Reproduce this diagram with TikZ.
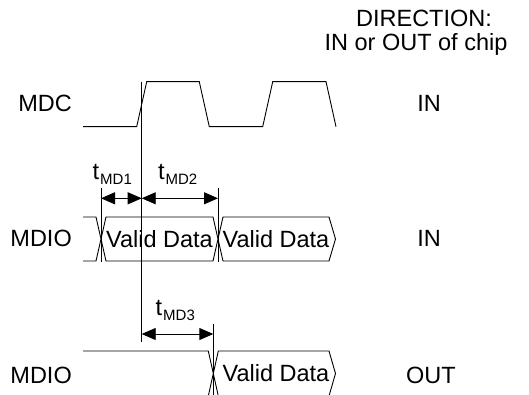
\documentclass[tikz,border=0pt]{standalone}
\usepackage{fontspec}
\setmainfont{Liberation Sans}
\usetikzlibrary{arrows.meta}
\newcommand{\tsub}[1]{t\kern1pt\raisebox{-5.5pt}{\fontsize{15}{15}\selectfont #1}}
\begin{document}
\begin{tikzpicture}[x=1pt,y=-1pt,
  wave/.style={line width=0.9pt, line join=miter},
  tickline/.style={line width=0.9pt},
  dimarrow/.style={line width=0.9pt, {Triangle[length=14pt,width=12pt]}-{Triangle[length=14pt,width=12pt]}},
  lbl/.style={inner sep=0pt, font=\fontsize{23.5}{23.5}\selectfont},
]
\useasboundingbox (0,0) rectangle (529,395);

% labels
\node[lbl, anchor=base east] (mdc) at (72,112) {MDC};
\node[lbl, anchor=base east] (mdioin) at (72,246) {MDIO};
\node[lbl, anchor=base east] (mdioout) at (72,383) {MDIO};
\node[lbl, anchor=base] (dir1) at (424,27) {DIRECTION:};
\node[lbl, anchor=base] (dir2) at (416,51) {IN or OUT of chip};
\node[lbl, anchor=base] (in1) at (429,112) {IN};
\node[lbl, anchor=base] (in2) at (429,246) {IN};
\node[lbl, anchor=base] (out) at (431,383) {OUT};

% MDC clock
\draw[wave] (83,126.7) -- (136.7,126.7) -- (146.7,81.7) -- (199.3,81.7) -- (209.3,126.7)
  -- (262.7,126.7) -- (272.7,81.7) -- (326,81.7) -- (336,126.7);

% MDIO IN bus
\draw[wave] (83,217) -- (96,217) -- (106,261) -- (213,261) -- (223,217) -- (329,217)
  -- (335.5,239) -- (329,261) -- (223,261) -- (213,217) -- (106,217) -- (96,261) -- (83,261);
\node[lbl, anchor=base] (vd1) at (159.5,247.5) {Valid Data};
\node[lbl, anchor=base] (vd2) at (276,247.5) {Valid Data};

% MDIO OUT bus
\draw[wave] (83,351) -- (208.3,351) -- (218.3,396) -- (329,396) -- (335.5,373.5) -- (329,351)
  -- (218.3,351) -- (208.3,396) -- (83,396);
\node[lbl, anchor=base] (vd3) at (276,381) {Valid Data};

% reference lines
\coordinate (m0) at (141.7,81.7);
\coordinate (m1) at (141.7,341.7);
\draw[tickline] (m0) -- (m1);
\coordinate (a0) at (101,188); \coordinate (a1) at (101,262);
\coordinate (b0) at (218,188); \coordinate (b1) at (218,262);
\coordinate (c0) at (213.3,324); \coordinate (c1) at (213.3,396);
\draw[tickline] (a0) -- (a1);
\draw[tickline] (b0) -- (b1);
\draw[tickline] (c0) -- (c1);

% dimension arrows
\coordinate (d1l) at (101,198.3);
\coordinate (d1r) at (141.7,198.3);
\coordinate (d2r) at (218,198.3);
\coordinate (d3l) at (141.7,334);
\coordinate (d3r) at (213.3,334);
\draw[dimarrow] (d1l) -- (d1r);
\draw[dimarrow] (d1r) -- (d2r);
\draw[dimarrow] (d3l) -- (d3r);

\node[lbl, anchor=base west] (tmd1) at (92.5,179.5) {\tsub{MD1}};
\node[lbl, anchor=base west] (tmd2) at (157.8,179.5) {\tsub{MD2}};
\node[lbl, anchor=base west] (tmd3) at (155.5,315) {\tsub{MD3}};
\end{tikzpicture}
\end{document}
